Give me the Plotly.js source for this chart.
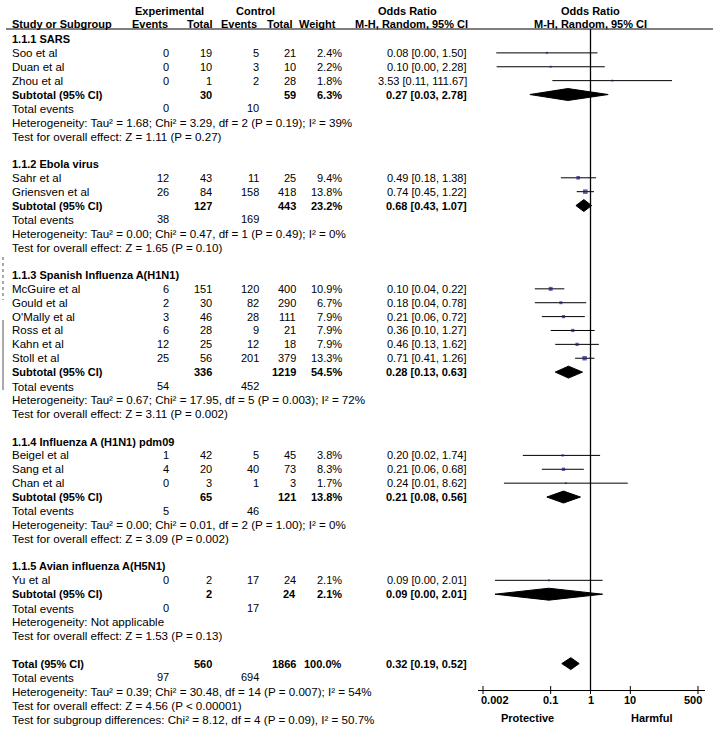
<!DOCTYPE html>
<html>
<head>
<meta charset="utf-8">
<script src="https://cdn.plot.ly/plotly-3.0.1.min.js"></script>
<style>html,body{margin:0;padding:0;background:#fff;}#chart{width:716px;height:730px;}</style>
</head>
<body>
<div id="chart"></div>
<script>
// ---------- DATA ----------
const groupTitles = ['1.1.1 SARS', '1.1.2 Ebola virus', '1.1.3 Spanish Influenza A(H1N1)', '1.1.4 Influenza A (H1N1) pdm09', '1.1.5 Avian influenza A(H5N1)'];
const studyNames = ['Soo et al', 'Duan et al', 'Zhou et al', 'Sahr et al', 'Griensven et al', 'McGuire et al', 'Gould et al', "O'Mally et al", 'Ross et al', 'Kahn et al', 'Stoll et al', 'Beigel et al', 'Sang et al', 'Chan et al', 'Yu et al'];
const studyGroup = [0, 0, 0, 1, 1, 2, 2, 2, 2, 2, 2, 3, 3, 3, 4];
const expEvents = [0, 0, 0, 12, 26, 6, 2, 3, 6, 12, 25, 1, 4, 0, 0];
const expTotal = [19, 10, 1, 43, 84, 151, 30, 46, 28, 25, 56, 42, 20, 3, 2];
const ctrlEvents = [5, 3, 2, 11, 158, 120, 82, 28, 9, 12, 201, 5, 40, 1, 17];
const ctrlTotal = [21, 10, 28, 25, 418, 400, 290, 111, 21, 18, 379, 45, 73, 3, 24];
const weights = [2.4, 2.2, 1.8, 9.4, 13.8, 10.9, 6.7, 7.9, 7.9, 7.9, 13.3, 3.8, 8.3, 1.7, 2.1];
const orEst = [0.08, 0.10, 3.53, 0.49, 0.74, 0.10, 0.18, 0.21, 0.36, 0.46, 0.71, 0.20, 0.21, 0.24, 0.09];
const orLow = [0.0043, 0.0044, 0.11, 0.18, 0.45, 0.04, 0.04, 0.06, 0.10, 0.13, 0.41, 0.02, 0.06, 0.0067, 0.004];
const orHigh = [1.50, 2.28, 111.67, 1.38, 1.22, 0.22, 0.78, 0.72, 1.27, 1.62, 1.26, 1.74, 0.68, 8.62, 2.01];

const subExpTotal = [30, 127, 336, 65, 2];
const subCtrlTotal = [59, 443, 1219, 121, 24];
const subWeight = [6.3, 23.2, 54.5, 13.8, 2.1];
const subEst = [0.27, 0.68, 0.28, 0.21, 0.09];
const subLow = [0.03, 0.43, 0.13, 0.08, 0.004];
const subHigh = [2.78, 1.07, 0.63, 0.56, 2.01];
const subExpEvents = [0, 38, 54, 5, 0];
const subCtrlEvents = [10, 169, 452, 46, 17];
const subHetero = [
  'Heterogeneity: Tau² = 1.68; Chi² = 3.29, df = 2 (P = 0.19); I² = 39%',
  'Heterogeneity: Tau² = 0.00; Chi² = 0.47, df = 1 (P = 0.49); I² = 0%',
  'Heterogeneity: Tau² = 0.67; Chi² = 17.95, df = 5 (P = 0.003); I² = 72%',
  'Heterogeneity: Tau² = 0.00; Chi² = 0.01, df = 2 (P = 1.00); I² = 0%',
  'Heterogeneity: Not applicable'
];
const subTest = [
  'Test for overall effect: Z = 1.11 (P = 0.27)',
  'Test for overall effect: Z = 1.65 (P = 0.10)',
  'Test for overall effect: Z = 3.11 (P = 0.002)',
  'Test for overall effect: Z = 3.09 (P = 0.002)',
  'Test for overall effect: Z = 1.53 (P = 0.13)'
];
const totalExpTotal = 560, totalCtrlTotal = 1866, totalWeight = 100.0;
const totalEst = 0.32, totalLow = 0.19, totalHigh = 0.52;
const totalExpEvents = 97, totalCtrlEvents = 694;
const totalLines = [
  'Heterogeneity: Tau² = 0.39; Chi² = 30.48, df = 14 (P = 0.007); I² = 54%',
  'Test for overall effect: Z = 4.56 (P < 0.00001)',
  'Test for subgroup differences: Chi² = 8.12, df = 4 (P = 0.09), I² = 50.7%'
];
const tickVals = [0.002, 0.1, 1, 10, 500];
const tickLabels = ['0.002', '0.1', '1', '10', '500'];
const nullValue = 1;

// ---------- LAYOUT CONSTANTS ----------
const W = 716, H = 730, Y0 = 39, RH = 13.88;
const FONT = 'Arial, "Liberation Sans", sans-serif';
const FS_BOLD = 11, FS_NUM = 11, FS_NAME = 11.5, FS_NOTE = 11.6;
const rAt = py => (py - Y0) / RH;
const COL = {label: 11, expEv: 170, expTot: 213, ctlEv: 260, ctlTot: 297, wt: 343, or: 468};

const ann = [];
function txt(text, px, r, anchor, bold, size) {
  ann.push({xref: 'paper', x: px / W, yref: 'y', y: r, xanchor: anchor || 'left', yanchor: 'middle',
    text: bold ? '<b>' + text + '</b>' : text, showarrow: false, borderpad: 0,
    font: {family: FONT, size: size || (bold ? FS_BOLD : FS_NUM), color: '#000'}});
}
const f2 = v => v.toFixed(2);
const orStr = (e, l, h) => f2(e) + ' [' + f2(l) + ', ' + f2(h) + ']';

// headers
txt('Experimental', 169, rAt(11), 'center', true);
txt('Control', 255, rAt(11), 'center', true);
txt('Odds Ratio', 408, rAt(11), 'center', true);
txt('Odds Ratio', 590, rAt(11), 'center', true);
txt('Study or Subgroup', COL.label, rAt(24), 'left', true);
txt('Events', 169, rAt(24), 'right', true);
txt('Total', 213, rAt(24), 'right', true);
txt('Events', 258, rAt(24), 'right', true);
txt('Total', 293, rAt(24), 'right', true);
txt('Weight', 337, rAt(24), 'right', true);
txt('M-H, Random, 95% CI', 411, rAt(24), 'center', true);
txt('M-H, Random, 95% CI', 590, rAt(24), 'center', true);

// rows
let r = 0;
const studyRow = [];
const subRow = [];
for (let g = 0; g < groupTitles.length; g++) {
  txt(groupTitles[g], COL.label, r, 'left', true); r++;
  for (let i = 0; i < studyNames.length; i++) {
    if (studyGroup[i] !== g) continue;
    studyRow[i] = r;
    txt(studyNames[i], COL.label, r, 'left', false, FS_NAME);
    txt(String(expEvents[i]), COL.expEv, r, 'right');
    txt(String(expTotal[i]), COL.expTot, r, 'right');
    txt(String(ctrlEvents[i]), COL.ctlEv, r, 'right');
    txt(String(ctrlTotal[i]), COL.ctlTot, r, 'right');
    txt(weights[i].toFixed(1) + '%', COL.wt, r, 'right');
    txt(orStr(orEst[i], orLow[i], orHigh[i]), COL.or, r, 'right');
    r++;
  }
  subRow[g] = r;
  txt('Subtotal (95% CI)', COL.label, r, 'left', true);
  txt(String(subExpTotal[g]), COL.expTot, r, 'right', true);
  txt(String(subCtrlTotal[g]), COL.ctlTot, r, 'right', true);
  txt(subWeight[g].toFixed(1) + '%', COL.wt, r, 'right', true);
  txt(orStr(subEst[g], subLow[g], subHigh[g]), COL.or, r, 'right', true);
  r++;
  txt('Total events', COL.label, r, 'left', false, FS_NOTE);
  txt(String(subExpEvents[g]), COL.expEv, r, 'right');
  txt(String(subCtrlEvents[g]), COL.ctlEv, r, 'right');
  r++;
  txt(subHetero[g], COL.label, r, 'left', false, FS_NOTE); r++;
  txt(subTest[g], COL.label, r, 'left', false, FS_NOTE); r++;
  r++; // blank
}
const totalRow = r;
txt('Total (95% CI)', COL.label, r, 'left', true);
txt(String(totalExpTotal), COL.expTot, r, 'right', true);
txt(String(totalCtrlTotal), COL.ctlTot, r, 'right', true);
txt(totalWeight.toFixed(1) + '%', COL.wt, r, 'right', true);
txt(orStr(totalEst, totalLow, totalHigh), COL.or, r, 'right', true);
r++;
txt('Total events', COL.label, r, 'left', false, FS_NOTE);
txt(String(totalExpEvents), COL.expEv, r, 'right');
txt(String(totalCtrlEvents), COL.ctlEv, r, 'right');
r++;
totalLines.forEach(t => { txt(t, COL.label, r, 'left', false, FS_NOTE); r++; });

// axis tick labels and direction labels
tickVals.forEach((v, i) => {
  const last = i === tickVals.length - 1, first = i === 0;
  ann.push({xref: 'x2', x: Math.log10(v), yref: 'paper', y: (H - 700) / H,
    xanchor: first ? 'left' : (last ? 'right' : 'center'), xshift: first ? -3 : (last ? 5 : 0),
    yanchor: 'middle', text: '<b>' + tickLabels[i] + '</b>', showarrow: false, borderpad: 0,
    font: {family: FONT, size: FS_BOLD, color: '#000'}});
});
ann.push({xref: 'paper', x: 527 / W, yref: 'paper', y: (H - 718) / H, xanchor: 'center', yanchor: 'middle',
  text: '<b>Protective</b>', showarrow: false, font: {family: FONT, size: FS_BOLD, color: '#000'}});
ann.push({xref: 'paper', x: 652 / W, yref: 'paper', y: (H - 718) / H, xanchor: 'center', yanchor: 'middle',
  text: '<b>Harmful</b>', showarrow: false, font: {family: FONT, size: FS_BOLD, color: '#000'}});

// ---------- TRACES ----------
const traces = [];
// reference line at OR = 1
traces.push({x: [nullValue, nullValue], y: [rAt(29), rAt(690)], xaxis: 'x2', yaxis: 'y', mode: 'lines',
  line: {color: '#000', width: 1.3}, hoverinfo: 'skip'});
// axis ticks
const tx = [], ty = [];
tickVals.forEach(v => { tx.push(v, v, null); ty.push(rAt(686), rAt(694), null); });
traces.push({x: tx, y: ty, xaxis: 'x2', yaxis: 'y', mode: 'lines', line: {color: '#000', width: 1}, hoverinfo: 'skip'});
// CI lines
const cx = [], cy = [];
studyNames.forEach((n, i) => { cx.push(orLow[i], orHigh[i], null); cy.push(studyRow[i], studyRow[i], null); });
traces.push({x: cx, y: cy, xaxis: 'x2', yaxis: 'y', mode: 'lines', line: {color: '#000', width: 1}, hoverinfo: 'skip'});
// study squares
traces.push({x: orEst, y: studyRow, xaxis: 'x2', yaxis: 'y', mode: 'markers',
  marker: {symbol: 'square', color: '#1a1a80', size: weights.map(w => 1.5 + 0.22 * w), line: {width: 0}}, hoverinfo: 'skip'});
// diamonds
function diamond(e, l, h, row) {
  const hh = 0.43;
  traces.push({x: [l, e, h, e, l], y: [row, row - hh, row, row + hh, row], xaxis: 'x2', yaxis: 'y',
    mode: 'lines', fill: 'toself', fillcolor: '#000', line: {color: '#000', width: 1}, hoverinfo: 'skip'});
}
subEst.forEach((e, g) => diamond(e, subLow[g], subHigh[g], subRow[g]));
diamond(totalEst, totalLow, totalHigh, totalRow);

// ---------- LAYOUT ----------
const layout = {
  width: W, height: H, margin: {l: 0, r: 0, t: 0, b: 0},
  paper_bgcolor: '#fff', plot_bgcolor: 'rgba(0,0,0,0)', showlegend: false, hovermode: false,
  yaxis: {domain: [0, 1], range: [rAt(H), rAt(0)], visible: false, fixedrange: true},
  xaxis2: {type: 'log', domain: [478 / W, 705 / W], range: [-2.825, 2.875], anchor: 'free', position: 40 / H,
    showline: true, linecolor: '#000', linewidth: 1, ticks: '', showticklabels: false, showgrid: false,
    zeroline: false, fixedrange: true},
  annotations: ann,
  shapes: [
    {type: 'line', xref: 'paper', yref: 'paper', x0: 6 / W, x1: 713 / W, y0: (H - 29) / H, y1: (H - 29) / H,
      line: {color: '#000', width: 1.2}},
    {type: 'line', xref: 'paper', yref: 'paper', x0: 3 / W, x1: 3 / W, y0: (H - 257) / H, y1: (H - 300) / H,
      line: {color: '#555', width: 1, dash: 'dot'}},
    {type: 'line', xref: 'paper', yref: 'paper', x0: 3 / W, x1: 3 / W, y0: (H - 320) / H, y1: (H - 390) / H,
      line: {color: '#555', width: 1}}
  ]
};
Plotly.newPlot('chart', traces, layout, {displayModeBar: false, staticPlot: true});
</script>
</body>
</html>
